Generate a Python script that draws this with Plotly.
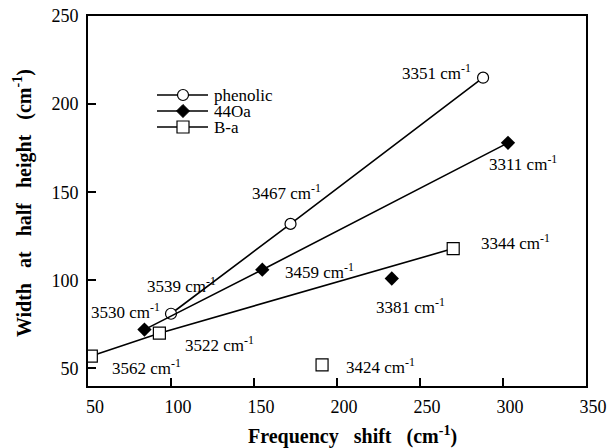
import plotly.graph_objects as go

# Frequency shift (cm-1) vs. width at half height (cm-1)
phenolic_shift = [100, 172, 288]
phenolic_width = [81, 132, 215]
phenolic_freq = ["3539", "3467", "3351"]

oa_shift = [84, 155, 303]
oa_width = [72, 106, 178]
oa_freq = ["3530", "3459", "3311"]
oa_extra_shift = [233]
oa_extra_width = [101]
oa_extra_freq = ["3381"]

ba_shift = [52, 93, 270]
ba_width = [57, 70, 118]
ba_freq = ["3562", "3522", "3344"]
ba_extra_shift = [191]
ba_extra_width = [52]
ba_extra_freq = ["3424"]

series_names = ["phenolic", "44Oa", "B-a"]

x_ticks = [50, 100, 150, 200, 250, 300, 350]
y_ticks = [50, 100, 150, 200, 250]

FONT = "Liberation Serif, Times New Roman, Times, serif"
BLACK = "black"
SP = "&nbsp;&nbsp;&nbsp;"

# plot-area geometry in pixels
W, H = 607, 448
ML, MR, MT, MB = 88, 21, 16, 62
PW, PH = W - ML - MR, H - MT - MB


def px_to_paper(px, py):
    return (px - ML) / PW, (H - MB - py) / PH


fig = go.Figure()

diamond = dict(symbol="diamond", size=11, color=BLACK)
open_square = dict(symbol="square", size=12, color="white", line=dict(color=BLACK, width=1.2))
open_circle = dict(symbol="circle", size=11, color="white", line=dict(color=BLACK, width=1.2))

fig.add_trace(go.Scatter(x=phenolic_shift, y=phenolic_width, mode="lines+markers",
                         name=series_names[0], line=dict(color=BLACK, width=1.6),
                         marker=open_circle))
fig.add_trace(go.Scatter(x=oa_shift, y=oa_width, mode="lines+markers",
                         name=series_names[1], line=dict(color=BLACK, width=1.6),
                         marker=diamond))
fig.add_trace(go.Scatter(x=ba_shift, y=ba_width, mode="lines+markers",
                         name=series_names[2], line=dict(color=BLACK, width=1.6),
                         marker=open_square))
fig.add_trace(go.Scatter(x=oa_extra_shift, y=oa_extra_width, mode="markers",
                         showlegend=False, marker=diamond))
fig.add_trace(go.Scatter(x=ba_extra_shift, y=ba_extra_width, mode="markers",
                         showlegend=False, marker=open_square))

# frequency labels placed beside their points (pixel offsets, anchor)
label_offsets = {
    "3539": (10, 29, "center"), "3467": (-4, 32, "center"), "3351": (-10, 6, "right"),
    "3530": (-19, 19, "center"), "3459": (57, -1, "center"), "3311": (15, -20, "center"),
    "3381": (19, -27, "center"),
    "3562": (55, -11, "center"), "3522": (60, -11, "center"), "3344": (62, 7, "center"),
    "3424": (58, -1, "center"),
}
groups = [
    (phenolic_shift, phenolic_width, phenolic_freq),
    (oa_shift, oa_width, oa_freq),
    (oa_extra_shift, oa_extra_width, oa_extra_freq),
    (ba_shift, ba_width, ba_freq),
    (ba_extra_shift, ba_extra_width, ba_extra_freq),
]
for xs, ys, fs in groups:
    for xv, yv, f in zip(xs, ys, fs):
        dx, dy, anchor = label_offsets[f]
        fig.add_annotation(x=xv, y=yv, text=f"{f} cm<sup>-1</sup>", showarrow=False,
                           xshift=dx, yshift=dy, xanchor=anchor, yanchor="middle",
                           font=dict(family=FONT, size=17, color=BLACK))

# compact hand-drawn key: line sample, symbol and name per series
key_rows = [95, 111, 127]
line_x0, line_x1, sym_x, text_x = 157, 208, 183, 212
r = 5.5
for name, row in zip(series_names, key_rows):
    x0, y0 = px_to_paper(line_x0, row)
    x1, _ = px_to_paper(line_x1, row)
    fig.add_shape(type="line", xref="paper", yref="paper", x0=x0, x1=x1, y0=y0, y1=y0,
                  line=dict(color=BLACK, width=1.6))
    if name == "phenolic":
        a, b = px_to_paper(sym_x - r, row + r)
        c, d = px_to_paper(sym_x + r, row - r)
        fig.add_shape(type="circle", xref="paper", yref="paper", x0=a, y0=b, x1=c, y1=d,
                      fillcolor="white", line=dict(color=BLACK, width=1.2))
    elif name == "44Oa":
        pts = [px_to_paper(sym_x, row - 6.5), px_to_paper(sym_x + 6.5, row),
               px_to_paper(sym_x, row + 6.5), px_to_paper(sym_x - 6.5, row)]
        path = "M " + " L ".join(f"{p[0]:.5f},{p[1]:.5f}" for p in pts) + " Z"
        fig.add_shape(type="path", xref="paper", yref="paper", path=path,
                      fillcolor=BLACK, line=dict(color=BLACK, width=1))
    else:
        a, b = px_to_paper(sym_x - 6, row + 6)
        c, d = px_to_paper(sym_x + 6, row - 6)
        fig.add_shape(type="rect", xref="paper", yref="paper", x0=a, y0=b, x1=c, y1=d,
                      fillcolor="white", line=dict(color=BLACK, width=1.2))
    tx, ty = px_to_paper(text_x, row)
    fig.add_annotation(xref="paper", yref="paper", x=tx, y=ty, text=name, showarrow=False,
                       xanchor="left", yanchor="middle",
                       font=dict(family=FONT, size=17, color=BLACK))

axis_common = dict(showline=True, linewidth=2, linecolor=BLACK, mirror=True,
                   ticks="inside", ticklen=8, tickwidth=1.5, tickcolor=BLACK,
                   showgrid=False, zeroline=False, automargin=False,
                   tickfont=dict(family=FONT, size=18, color=BLACK))

fig.update_xaxes(range=[50, 350], tickvals=x_ticks, ticklabelshift=7,
                 ticklabelstandoff=3, **axis_common)
fig.update_yaxes(range=[40, 250], tickvals=y_ticks, ticklabelstandoff=4, **axis_common)

fig.add_annotation(xref="paper", yref="paper", x=0.532, y=-0.135,
                   xanchor="center", yanchor="middle",
                   text=f"<b>Frequency{SP}shift{SP}(cm<sup>-1</sup>)</b>", showarrow=False,
                   font=dict(family=FONT, size=20, color=BLACK))
fig.add_annotation(xref="paper", yref="paper", x=-0.13, y=0.495, textangle=-90,
                   xanchor="center", yanchor="middle",
                   text=f"<b>Width{SP}at{SP}half{SP}height{SP}(cm<sup>-1</sup>)</b>",
                   showarrow=False,
                   font=dict(family=FONT, size=20, color=BLACK))

fig.update_layout(
    width=W, height=H,
    margin=dict(l=ML, r=MR, t=MT, b=MB, autoexpand=False),
    paper_bgcolor="white", plot_bgcolor="white",
    showlegend=False,
)

fig.write_html("out.html")
